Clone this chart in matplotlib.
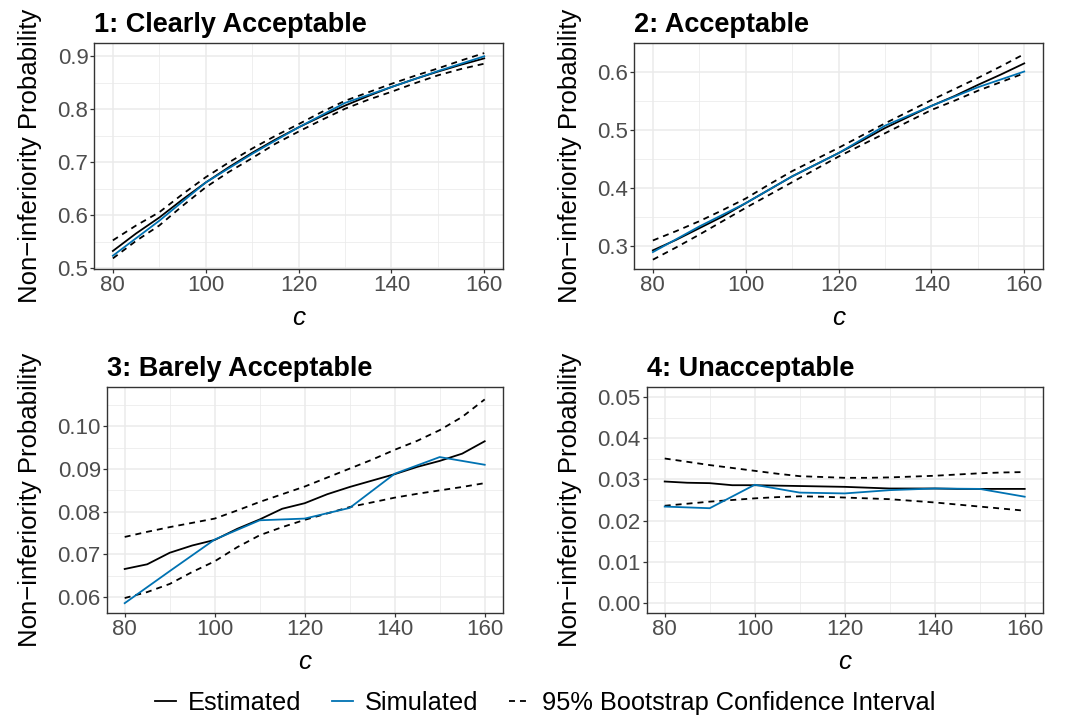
import numpy as np
import matplotlib
matplotlib.use('Agg')
import matplotlib.pyplot as plt
from matplotlib.lines import Line2D

plt.rcParams['font.family'] = ['Liberation Sans', 'DejaVu Sans']
plt.rcParams['lines.scale_dashes'] = False

# c values: estimated curve / CI on a fine grid, simulated every 10
c_est = [80, 85, 90, 95, 100, 105, 110, 115, 120, 125, 130, 135, 140, 145, 150, 155, 160]
c_sim = [80, 90, 100, 110, 120, 130, 140, 150, 160]

titles = ['1: Clearly Acceptable', '2: Acceptable', '3: Barely Acceptable', '4: Unacceptable']

# 1: Clearly Acceptable
est1 = [0.533, 0.566, 0.596, 0.630, 0.662, 0.691, 0.718, 0.743, 0.766, 0.787, 0.807, 0.825, 0.842, 0.857, 0.871, 0.884, 0.896]
up1 = [0.553, 0.581, 0.606, 0.640, 0.672, 0.700, 0.726, 0.750, 0.772, 0.795, 0.816, 0.832, 0.848, 0.863, 0.877, 0.892, 0.906]
lo1 = [0.519, 0.552, 0.581, 0.618, 0.653, 0.682, 0.708, 0.735, 0.758, 0.780, 0.801, 0.818, 0.833, 0.849, 0.864, 0.876, 0.886]
sim1 = [0.524, 0.590, 0.662, 0.716, 0.766, 0.812, 0.842, 0.872, 0.900]

# 2: Acceptable
est2 = [0.293, 0.311, 0.331, 0.351, 0.374, 0.397, 0.420, 0.440, 0.460, 0.481, 0.503, 0.522, 0.541, 0.558, 0.577, 0.595, 0.614]
up2 = [0.310, 0.326, 0.343, 0.362, 0.382, 0.406, 0.429, 0.449, 0.469, 0.490, 0.511, 0.531, 0.551, 0.570, 0.589, 0.609, 0.630]
lo2 = [0.277, 0.298, 0.320, 0.343, 0.366, 0.388, 0.410, 0.432, 0.454, 0.474, 0.494, 0.514, 0.534, 0.550, 0.567, 0.582, 0.597]
sim2 = [0.290, 0.334, 0.374, 0.420, 0.460, 0.507, 0.541, 0.573, 0.600]

# 3: Barely Acceptable
est3 = [0.0666, 0.0677, 0.0704, 0.0721, 0.0734, 0.0760, 0.0782, 0.0807, 0.0820, 0.0841, 0.0858, 0.0873, 0.0888, 0.0905, 0.0919, 0.0936, 0.0965]
up3 = [0.0741, 0.0753, 0.0764, 0.0774, 0.0784, 0.0803, 0.0823, 0.0841, 0.0859, 0.0880, 0.0901, 0.0922, 0.0945, 0.0966, 0.0991, 0.1022, 0.1063]
lo3 = [0.0598, 0.0612, 0.0631, 0.0659, 0.0684, 0.0717, 0.0745, 0.0764, 0.0781, 0.0796, 0.0811, 0.0822, 0.0833, 0.0842, 0.0850, 0.0858, 0.0867]
sim3 = [0.0586, 0.0661, 0.0735, 0.0780, 0.0784, 0.0809, 0.0889, 0.0928, 0.0910]

# 4: Unacceptable
est4 = [0.0295, 0.0292, 0.0291, 0.0286, 0.0286, 0.0285, 0.0284, 0.0283, 0.0282, 0.0280, 0.0278, 0.0278, 0.0278, 0.0277, 0.0277, 0.0277, 0.0277]
up4 = [0.0351, 0.0343, 0.0335, 0.0328, 0.0321, 0.0314, 0.0308, 0.0306, 0.0304, 0.0304, 0.0305, 0.0307, 0.0309, 0.0312, 0.0315, 0.0317, 0.0318]
lo4 = [0.0236, 0.0241, 0.0246, 0.0250, 0.0254, 0.0257, 0.0259, 0.0258, 0.0256, 0.0254, 0.0252, 0.0248, 0.0244, 0.0239, 0.0234, 0.0229, 0.0224]
sim4 = [0.0234, 0.0230, 0.0287, 0.0268, 0.0266, 0.0274, 0.0278, 0.0277, 0.0258]

panels = [(est1, up1, lo1, sim1), (est2, up2, lo2, sim2),
          (est3, up3, lo3, sim3), (est4, up4, lo4, sim4)]

yticks = [[0.5, 0.6, 0.7, 0.8, 0.9],
          [0.3, 0.4, 0.5, 0.6],
          [0.06, 0.07, 0.08, 0.09, 0.10],
          [0.0, 0.01, 0.02, 0.03, 0.04, 0.05]]
yfmt = ['%.1f', '%.1f', '%.2f', '%.2f']
ylims = [(0.499, 0.925), (0.261, 0.649), (0.0563, 0.1092), (-0.0025, 0.0525)]

# axes boxes in pixels: left, top, width
W, H = 1080, 720
boxes = [(94.3, 43, 408.5), (634.3, 43, 408.5), (106.7, 387, 396), (646.7, 387, 396)]
ph = 226
label_x_px = [30, 570, 30, 570]

BLUE = '#0072B2'
GRID = '#EBEBEB'

fig = plt.figure(figsize=(10.8, 7.2), dpi=100)

for i in range(4):
    left, top, w = boxes[i]
    ax = fig.add_axes([left / W, (H - top - ph) / H, w / W, ph / H])
    est, up, lo, sim = panels[i]
    ax.plot(c_est, est, color='black', lw=1.3, zorder=3)
    ax.plot(c_est, up, color='black', lw=1.3, dashes=(4.3, 3.6), zorder=3)
    ax.plot(c_est, lo, color='black', lw=1.3, dashes=(4.3, 3.6), zorder=3)
    ax.plot(c_sim, sim, color=BLUE, lw=1.3, zorder=4)

    ax.set_xlim(76, 164)
    ax.set_xticks([80, 100, 120, 140, 160])
    ax.set_xticks([90, 110, 130, 150], minor=True)
    yt = yticks[i]
    ax.set_yticks(yt)
    step = yt[1] - yt[0]
    ax.set_yticks([v + step / 2 for v in yt[:-1]] + [yt[0] - step / 2, yt[-1] + step / 2], minor=True)
    ax.set_yticklabels([yfmt[i] % v for v in yt])
    ax.set_ylim(*ylims[i])

    ax.grid(which='major', color=GRID, lw=1.1, zorder=0)
    ax.grid(which='minor', color=GRID, lw=0.55, zorder=0)
    ax.set_axisbelow(True)
    for s in ax.spines.values():
        s.set_color('#333333')
        s.set_linewidth(1.0)
    ax.tick_params(which='major', length=2.75, width=0.9, color='#333333',
                   labelsize=16, labelcolor='#4D4D4D', pad=1.5)
    ax.tick_params(which='minor', length=0)

    ax.set_title(titles[i], loc='left', fontsize=19.5, fontweight='bold', pad=8)
    ax.set_xlabel('c', fontsize=18.8, fontstyle='italic', labelpad=7)
    ax.set_ylabel('Non\u2212inferiority Probability', fontsize=18.5)
    ax.yaxis.set_label_coords((label_x_px[i] + 12 - left) / w, 0.5)

handles = [Line2D([], [], color='black', lw=1.3),
           Line2D([], [], color=BLUE, lw=1.3),
           Line2D([], [], color='black', lw=1.3, dashes=(4.3, 3.6))]
fig.legend(handles, ['Estimated', 'Simulated', '95% Bootstrap Confidence Interval'],
           loc='center', bbox_to_anchor=(545 / W, 1 - 703 / H), ncol=3, frameon=False,
           fontsize=18.3, handlelength=0.85, handletextpad=0.45, columnspacing=1.2)

fig.savefig('out.png', dpi=100)
